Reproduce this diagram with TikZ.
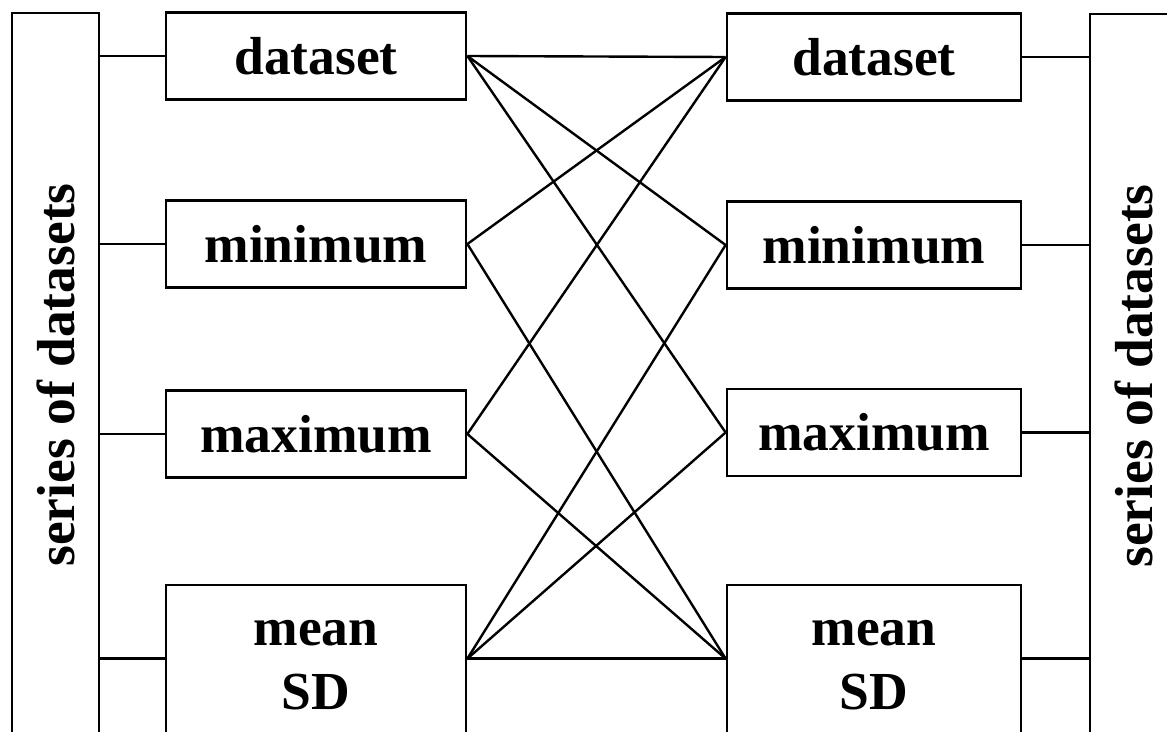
\documentclass[tikz,border=0pt]{standalone}
\usepackage{fontspec}
\setmainfont{Liberation Serif}
\usetikzlibrary{calc}
\begin{document}
\begin{tikzpicture}[x=1pt,y=-1pt,
  line width=2.8pt,
  every node/.style={font=\fontsize{53.5}{64}\selectfont\bfseries},
  statbox/.style={draw,rectangle,minimum height=87pt,inner sep=0pt},
  meanbox/.style={draw,rectangle,minimum height=160pt,inner sep=0pt,align=center},
  seriesbar/.style={draw,rectangle,minimum width=724pt,minimum height=87pt,inner sep=0pt,rotate=90},
  link/.style={line width=2.4pt}]
\clip (0,0) rectangle (1167,731);
\fill[white] (0,0) rectangle (1167,731);

% series bars on both sides
\node[seriesbar] (Lser) at (55.5,375) {series of datasets};
\node[seriesbar] (Rser) at (1133.5,376) {series of datasets};

% left column
\node[statbox,minimum width=300pt] (Ld)   at (316,56)  {dataset};
\node[statbox,minimum width=300pt] (Lmin) at (316,244) {minimum};
\node[statbox,minimum width=300pt] (Lmax) at (316,434) {maximum};
\node[meanbox,minimum width=300pt] (Lmean) at (316,665) {mean\\SD};

% right column
\node[statbox,minimum width=294pt] (Rd)   at (874,57)    {dataset};
\node[statbox,minimum width=294pt] (Rmin) at (874,245)   {minimum};
\node[statbox,minimum width=294pt] (Rmax) at (874,432.5) {maximum};
\node[meanbox,minimum width=294pt] (Rmean) at (874,665) {mean\\SD};

% attachment points on the mean boxes
\coordinate (LmE) at ($(Lmean.north east)+(0,75)$);
\coordinate (LmW) at ($(Lmean.north west)+(0,75)$);
\coordinate (RmE) at ($(Rmean.north east)+(0,75)$);
\coordinate (RmW) at ($(Rmean.north west)+(0,75)$);

% bar to box ties
\foreach \n in {Ld,Lmin,Lmax} \draw[link] (Lser.south |- \n.west) -- (\n.west);
\draw[link] (Lser.south |- LmW) -- (LmW);
\foreach \n in {Rd,Rmin,Rmax} \draw[link] (\n.east) -- (Rser.north |- \n.east);
\draw[link] (RmE) -- (Rser.north |- RmE);

% cross links between the columns
\draw[link] (Ld.east) -- (Rd.west);
\draw[link] (Ld.east) -- (Rmin.west);
\draw[link] (Ld.east) -- (Rmax.west);
\draw[link] (Lmin.east) -- (Rd.west);
\draw[link] (Lmin.east) -- (RmW);
\draw[link] (Lmax.east) -- (Rd.west);
\draw[link] (Lmax.east) -- (RmW);
\draw[link] (LmE) -- (Rmin.west);
\draw[link] (LmE) -- (Rmax.west);
\draw[link] (LmE) -- (RmW);
\end{tikzpicture}
\end{document}
